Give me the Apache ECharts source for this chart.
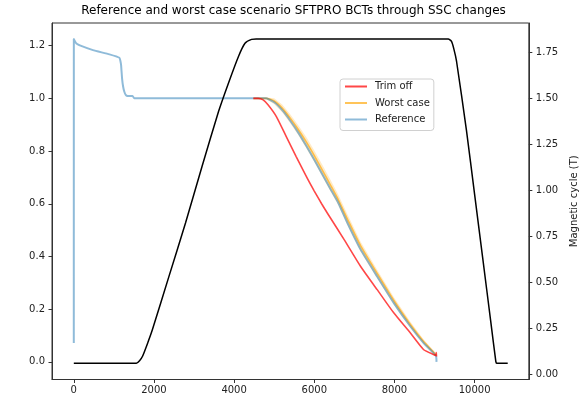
<!DOCTYPE html>
<html><head><meta charset="utf-8">
<script src="https://cdn.jsdelivr.net/npm/echarts@6/dist/echarts.min.js"></script>
<style>html,body{margin:0;padding:0;background:#fff}#c{width:587px;height:414px}</style>
</head><body><div id="c"></div>
<script>
// ---- data ----
const titleText = 'Reference and worst case scenario SFTPRO BCTs through SSC changes';
const xTicks = [0, 2000, 4000, 6000, 8000, 10000];
const leftTicks = [0, 0.2, 0.4, 0.6, 0.8, 1.0, 1.2];
const rightTicks = [0, 0.25, 0.5, 0.75, 1.0, 1.25, 1.5, 1.75];

// Magnetic cycle (T), right axis
const magX = [0, 1560, 1640, 1715, 1850, 1962, 2374, 2787, 3199, 3611, 3858, 4106, 4271, 4435, 4550, 9342, 9420, 9480, 9550, 9795, 10000, 10200, 10400, 10530, 10550, 10826];
const magT = [0.061, 0.061, 0.075, 0.099, 0.175, 0.244, 0.533, 0.823, 1.130, 1.428, 1.582, 1.726, 1.799, 1.820, 1.822, 1.822, 1.81, 1.77, 1.70, 1.329, 0.978, 0.636, 0.293, 0.07, 0.061, 0.061];

// Reference
const refX = [0, 1, 66, 200, 478, 890, 1138, 1165, 1180, 1204, 1230, 1261, 1300, 1344, 1467, 1509, 4800, 5000, 5200, 5400, 5600, 5800, 6000, 6200, 6400, 6600, 6827, 7157, 7569, 7982, 8394, 8724, 8971, 9040, 9050];
const refY = [0.072, 1.225, 1.208, 1.198, 1.183, 1.167, 1.154, 1.14, 1.126, 1.076, 1.045, 1.025, 1.012, 1.009, 1.009, 1.0, 1.0, 0.985, 0.955, 0.915, 0.87, 0.82, 0.767, 0.712, 0.657, 0.603, 0.527, 0.426, 0.324, 0.224, 0.135, 0.072, 0.034, 0.02, 0.0];

// Worst case (line + band)
const worstX = [4480, 4800, 5000, 5200, 5400, 5600, 5800, 6000, 6200, 6400, 6600, 6827, 7157, 7569, 7982, 8394, 8724, 8971, 9040];
const worstY = [1.0, 1.0, 0.99, 0.963, 0.925, 0.882, 0.835, 0.783, 0.728, 0.672, 0.615, 0.542, 0.44, 0.336, 0.234, 0.143, 0.078, 0.038, 0.025];
const bandLo = [1.0, 0.997, 0.978, 0.947, 0.906, 0.861, 0.811, 0.758, 0.703, 0.648, 0.594, 0.519, 0.418, 0.317, 0.218, 0.13, 0.068, 0.03, 0.018];
const bandHi = [1.0, 1.003, 1.0, 0.977, 0.94, 0.898, 0.853, 0.802, 0.748, 0.692, 0.634, 0.56, 0.456, 0.35, 0.246, 0.153, 0.086, 0.044, 0.03];

// Trim off
const trimX = [4480, 4600, 4724, 4850, 5054, 5301, 5548, 5830, 6000, 6183, 6332, 6745, 7157, 7569, 7982, 8394, 8724, 8971, 9040, 9045, 9050];
const trimY = [1.0, 1.0, 0.994, 0.975, 0.931, 0.855, 0.779, 0.695, 0.648, 0.600, 0.563, 0.464, 0.362, 0.274, 0.186, 0.11, 0.047, 0.028, 0.025, 0.035, 0.02];

// ---- chart ----
const font = 'DejaVu Sans';
const pair = (xs, ys) => xs.map((x, i) => [x, ys[i]]);
const axisCol = '#333';
const chart = echarts.init(document.getElementById('c'), null, {renderer: 'canvas'});

const option = {
  animation: false,
  backgroundColor: '#fff',
  title: {
    text: titleText, left: 'center', top: 5, padding: 0,
    textStyle: {fontSize: 12, fontWeight: 'normal', color: '#000', fontFamily: font}
  },
  legend: {
    data: ['Trim off', 'Worst case', 'Reference'],
    orient: 'vertical', left: 340, top: 79,
    icon: 'rect', itemWidth: 22, itemHeight: 2, itemGap: 4.5,
    padding: [1.5, 4, 5, 5],
    itemStyle: {borderWidth: 0},
    textStyle: {fontSize: 10, lineHeight: 12, fontFamily: font, color: '#222', padding: [0, 0, 0, 3]},
    borderColor: '#d0d0d0', borderWidth: 1, borderRadius: 3,
    backgroundColor: 'rgba(255,255,255,0.8)'
  },
  grid: {left: 52, right: 54, top: 23, bottom: 34.5, show: true, borderColor: axisCol, borderWidth: 1, backgroundColor: 'transparent'},
  xAxis: {
    type: 'value', min: -544, max: 11353,
    splitLine: {show: false},
    axisLine: {show: true, onZero: false, lineStyle: {color: axisCol}},
    axisTick: {show: true, inside: false, length: 3.5, customValues: xTicks, lineStyle: {color: axisCol}},
    axisLabel: {customValues: xTicks, fontSize: 10, fontFamily: font, color: '#222', margin: 6, formatter: v => String(Math.round(v))}
  },
  yAxis: [{
    type: 'value', position: 'left', min: -0.067, max: 1.286,
    splitLine: {show: false},
    axisLine: {show: true, onZero: false, lineStyle: {color: axisCol}},
    axisTick: {show: true, length: 3.5, customValues: leftTicks, lineStyle: {color: axisCol}},
    axisLabel: {customValues: leftTicks, fontSize: 10, fontFamily: font, color: '#222', margin: 7, formatter: v => v.toFixed(1)}
  }, {
    type: 'value', position: 'right', min: -0.027, max: 1.909,
    name: 'Magnetic cycle (T)', nameLocation: 'middle', nameRotate: 90, nameGap: 28,
    nameTextStyle: {fontSize: 10, fontFamily: font, color: '#222'},
    splitLine: {show: false},
    axisLine: {show: true, onZero: false, lineStyle: {color: axisCol}},
    axisTick: {show: true, length: 3.5, customValues: rightTicks, lineStyle: {color: axisCol}},
    axisLabel: {customValues: rightTicks, fontSize: 10, fontFamily: font, color: '#222', margin: 7, formatter: v => v.toFixed(2)}
  }],
  series: [{
    name: 'band', type: 'custom', yAxisIndex: 0, silent: true,
    data: worstX.map((x, i) => [x, bandLo[i], bandHi[i]]),
    encode: {x: 0, y: [1, 2]},
    renderItem: function (params, api) {
      if (params.dataIndex !== 0) return null;
      const top = worstX.map((x, i) => api.coord([x, bandHi[i]]));
      const bot = worstX.map((x, i) => api.coord([x, bandLo[i]])).reverse();
      return {type: 'polygon', shape: {points: top.concat(bot)}, style: {fill: 'rgba(255,165,0,0.22)'}};
    }
  }, {
    name: 'Worst case', type: 'line', yAxisIndex: 0, data: pair(worstX, worstY),
    showSymbol: false, symbol: 'none', smooth: 0.2,
    color: 'rgba(255,165,0,0.65)',
    lineStyle: {width: 1.6, color: 'rgba(255,165,0,0.65)'}
  }, {
    name: 'Reference', type: 'line', yAxisIndex: 0, data: pair(refX, refY),
    showSymbol: false, symbol: 'none', smooth: 0.15,
    color: 'rgba(31,119,180,0.5)',
    lineStyle: {width: 2, color: 'rgba(31,119,180,0.5)'}
  }, {
    name: 'Trim off', type: 'line', yAxisIndex: 0, data: pair(trimX, trimY),
    showSymbol: false, symbol: 'none', smooth: 0.2,
    color: 'rgba(255,0,0,0.72)',
    lineStyle: {width: 1.6, color: 'rgba(255,0,0,0.72)'}
  }, {
    name: 'Magnetic cycle', type: 'line', yAxisIndex: 1, data: pair(magX, magT),
    showSymbol: false, symbol: 'none', smooth: 0.2,
    color: '#000',
    lineStyle: {width: 1.5, color: '#000'}
  }]
};
chart.setOption(option);
</script>
</body></html>
